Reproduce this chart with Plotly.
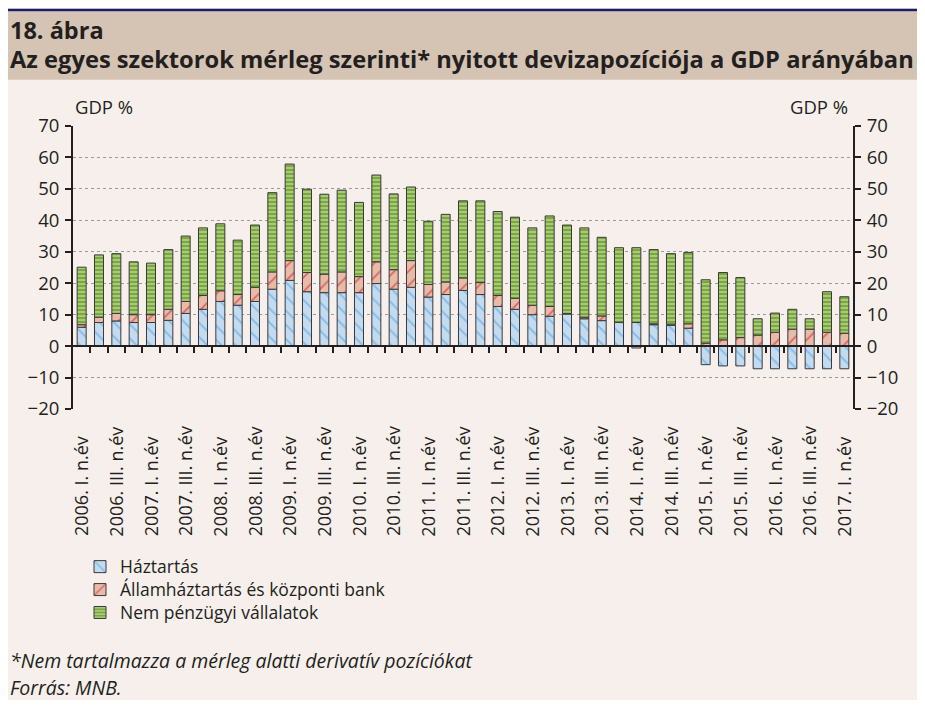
import plotly.graph_objects as go

# ---------------- data ----------------
years = list(range(2006, 2018))
quarter_names = ["I.", "II.", "III.", "IV."]
quarters = [f"{y}. {q} n.év" for y in years for q in quarter_names][:45]  # 2006 Q1 .. 2017 Q1

haztartas = [6.0, 7.5, 8.0, 7.5, 7.5, 8.2, 10.4, 11.7, 14.2, 13.0, 14.2, 18.1, 20.9, 17.3, 17.0,
             17.0, 17.0, 19.9, 18.1, 18.7, 15.6, 16.4, 17.7, 16.4, 12.6, 11.7, 10.0, 9.5, 10.2, 8.7,
             8.1, 7.5, 7.5, 6.8, 6.6, 5.7, -5.9, -6.3, -6.3, -7.2, -7.2, -7.2, -7.2, -7.2, -7.2]
allam = [0.8, 1.7, 2.4, 2.5, 2.5, 3.5, 3.8, 4.4, 3.4, 3.4, 4.5, 5.5, 6.3, 6.1, 5.9,
         6.6, 5.1, 6.9, 6.2, 8.5, 4.0, 4.0, 4.0, 3.8, 3.5, 3.5, 3.0, 3.1, 0.2, 0.5,
         1.5, 0.1, -0.6, 0.3, 0.4, 1.4, 0.9, 2.0, 2.7, 3.5, 4.4, 5.4, 5.4, 4.4, 4.1]
nem_penzugyi = [18.3, 19.8, 19.0, 16.8, 16.4, 19.0, 20.8, 21.5, 21.3, 17.3, 19.8, 25.2, 30.7, 26.5, 25.4,
                26.0, 23.6, 27.6, 24.1, 23.4, 20.1, 21.5, 24.5, 26.0, 26.7, 25.8, 24.6, 28.8, 28.1, 28.4,
                25.0, 23.7, 23.8, 23.6, 22.4, 22.7, 20.2, 21.4, 19.1, 5.2, 6.1, 6.3, 3.3, 12.9, 11.6]

series_names = ["Háztartás", "Államháztartás és központi bank", "Nem pénzügyi vállalatok"]
y_ticks = list(range(-20, 80, 10))

title_line1 = "18. ábra"
title_line2 = "Az egyes szektorok mérleg szerinti* nyitott devizapozíciója a GDP arányában"
footnote = "*Nem tartalmazza a mérleg alatti derivatív pozíciókat"
source = "Forrás: MNB."
unit = "GDP %"

# ---------------- layout geometry (figure pixels; page has an 8px body margin) ----------------
W, H = 917, 692
L, R, T, B = 65, 72, 117.5, 290.7
PW, PH = W - L - R, H - T - B
YMIN, YMAX = -20, 70


def px(x):
    return (x - L) / PW


def py(y):
    return (H - B - y) / PH


FONT = "Open Sans"
TXT = "#231f20"

x_idx = list(range(len(quarters)))

fig = go.Figure()
styles = [
    dict(color="#c2dbf1", pattern=dict(shape="\\", fgcolor="#4f9fd8", size=10, solidity=0.2)),
    dict(color="#e8baa7", pattern=dict(shape="/", fgcolor="#c4151d", size=10, solidity=0.18)),
    dict(color="#7aa83a", pattern=dict(shape="-", fgcolor="#d6e8bb", size=4, solidity=0.5)),
]
legend_ids = ["legend", "legend2", "legend3"]
for name, vals, st, lg in zip(series_names, [haztartas, allam, nem_penzugyi], styles, legend_ids):
    fig.add_trace(go.Bar(
        x=x_idx, y=vals, name=name, width=0.52, legend=lg,
        marker=dict(color=st["color"], pattern=st["pattern"],
                    line=dict(color="#3a3a3a", width=1)),
        hoverinfo="skip",
    ))

# helper traces so the secondary axes are drawn
fig.add_trace(go.Scatter(x=[None], y=[None], xaxis="x2", yaxis="y", showlegend=False, hoverinfo="skip"))
fig.add_trace(go.Scatter(x=[None], y=[None], xaxis="x", yaxis="y2", showlegend=False, hoverinfo="skip"))

axis_common = dict(range=[YMIN, YMAX], tickvals=y_ticks, showline=True, linecolor=TXT, linewidth=2,
                   ticks="outside", ticklen=6, tickwidth=2, tickcolor=TXT,
                   tickfont=dict(family=FONT, size=18.5, color=TXT), zeroline=False,
                   ticklabelstandoff=2)

legend_rows = [559.5, 582.5, 605.5]
legend_layout = {}
for lg, yrow in zip(legend_ids, legend_rows):
    legend_layout[lg] = dict(x=px(72), y=py(yrow), xanchor="left", yanchor="middle",
                             font=dict(family=FONT, size=17.5, color=TXT),
                             bgcolor="rgba(0,0,0,0)", itemwidth=30)

fig.update_layout(
    width=W, height=H,
    margin=dict(l=L, r=R, t=T, b=B, pad=0),
    paper_bgcolor="#f6efec", plot_bgcolor="#f6efec",
    barmode="relative",
    showlegend=True,
    xaxis=dict(range=[-0.5, len(quarters) - 0.5], showticklabels=False, showgrid=False,
               zeroline=False, showline=False, ticks=""),
    xaxis2=dict(overlaying="x", anchor="free", position=(0 - YMIN) / (YMAX - YMIN),
                range=[-0.5, len(quarters) - 0.5],
                tickvals=[i + 0.5 for i in range(len(quarters) - 1)],
                showticklabels=False, ticks="outside", ticklen=6, tickwidth=2, tickcolor=TXT,
                showline=True, linecolor=TXT, linewidth=2, showgrid=False, zeroline=False),
    yaxis=dict(**axis_common, side="left", showgrid=True, gridcolor="#9a9a9a", griddash="dot", gridwidth=1),
    yaxis2=dict(**axis_common, side="right", overlaying="y", showgrid=False),
    **legend_layout,
)

shapes = [
    dict(type="rect", xref="paper", yref="paper", x0=px(0), x1=px(W), y0=py(2.5), y1=py(71),
         fillcolor="#d5c4b4", line=dict(width=0), layer="below"),
    dict(type="rect", xref="paper", yref="paper", x0=px(0), x1=px(W), y0=py(0), y1=py(2.5),
         fillcolor="#1c1c6b", line=dict(width=0), layer="below"),
]
fig.update_layout(shapes=shapes)

ann = []
ann.append(dict(text=f"<b>{title_line1}</b>", x=px(0), y=py(21.5), xref="paper", yref="paper",
                xanchor="left", yanchor="middle", showarrow=False,
                font=dict(family=FONT, size=23.5, color=TXT)))
ann.append(dict(text=f"<b>{title_line2}</b>", x=px(0), y=py(50), xref="paper", yref="paper",
                xanchor="left", yanchor="middle", showarrow=False,
                font=dict(family=FONT, size=23.7, color=TXT)))
ann.append(dict(text=unit, x=px(65), y=py(112), xref="paper", yref="paper",
                xanchor="left", yanchor="bottom", showarrow=False,
                font=dict(family=FONT, size=18.5, color=TXT)))
ann.append(dict(text=unit, x=px(842), y=py(112), xref="paper", yref="paper",
                xanchor="right", yanchor="bottom", showarrow=False,
                font=dict(family=FONT, size=18.5, color=TXT)))
for i in range(0, len(quarters), 2):
    ann.append(dict(text=quarters[i], x=i, xref="x", y=py(531), yref="paper",
                    xanchor="center", yanchor="bottom", textangle=-90, showarrow=False,
                    font=dict(family=FONT, size=18, color=TXT)))
ann.append(dict(text=f"<i>{footnote}</i>", x=px(0), y=py(654), xref="paper", yref="paper",
                xanchor="left", yanchor="middle", showarrow=False,
                font=dict(family=FONT, size=19.5, color=TXT)))
ann.append(dict(text=f"<i>{source}</i>", x=px(0), y=py(681), xref="paper", yref="paper",
                xanchor="left", yanchor="middle", showarrow=False,
                font=dict(family=FONT, size=19.5, color=TXT)))
fig.update_layout(annotations=ann)

fig.write_html("out.html")
